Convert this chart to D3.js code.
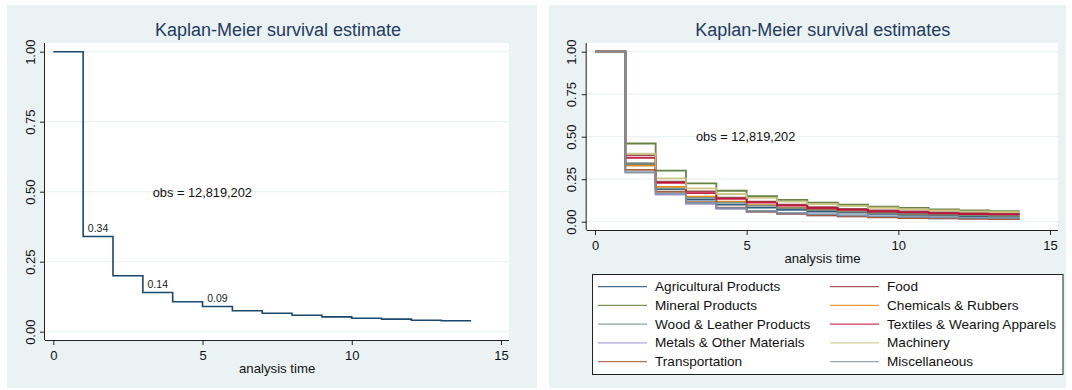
<!DOCTYPE html>
<html>
<head>
<meta charset="utf-8">
<script src="https://cdn.jsdelivr.net/npm/d3@7"></script>
<style>
  html, body { margin: 0; padding: 0; background: #ffffff; }
  svg { display: block; font-family: "Liberation Sans", Arial, sans-serif; }
</style>
</head>
<body>
<svg id="chart" width="1072" height="390"></svg>
<script>
// Survival times (years) at which the estimate steps; the curve ends at 14
const times = [0, 1, 2, 3, 4, 5, 6, 7, 8, 9, 10, 11, 12, 13, 14];

// Pooled Kaplan-Meier estimate
const pooled = [1.00, 0.34, 0.20, 0.14, 0.107, 0.09, 0.075, 0.066, 0.059, 0.053, 0.048, 0.045, 0.041, 0.039, 0.039];

// Intervals whose survival value is printed on the pooled curve
const labelledSteps = [1, 3, 5];

// Sector-level estimates
const sectors = [
  "Agricultural Products", "Food", "Mineral Products", "Chemicals & Rubbers",
  "Wood & Leather Products", "Textiles & Wearing Apparels", "Metals & Other Materials",
  "Machinery", "Transportation", "Miscellaneous"
];
const agricultural   = [1, 0.34,  0.19,  0.13,  0.100, 0.083, 0.070, 0.060, 0.053, 0.046, 0.041, 0.036, 0.032, 0.029, 0.029];
const food           = [1, 0.39,  0.235, 0.178, 0.142, 0.118, 0.100, 0.086, 0.076, 0.067, 0.061, 0.055, 0.051, 0.048, 0.048];
const mineral        = [1, 0.46,  0.30,  0.226, 0.182, 0.151, 0.128, 0.112, 0.100, 0.088, 0.081, 0.073, 0.066, 0.062, 0.062];
const chemicals      = [1, 0.33,  0.205, 0.148, 0.118, 0.097, 0.082, 0.070, 0.061, 0.053, 0.048, 0.043, 0.039, 0.036, 0.036];
const wood           = [1, 0.345, 0.195, 0.140, 0.112, 0.094, 0.079, 0.068, 0.060, 0.052, 0.047, 0.042, 0.038, 0.035, 0.035];
const textiles       = [1, 0.375, 0.228, 0.168, 0.134, 0.112, 0.094, 0.079, 0.069, 0.060, 0.055, 0.049, 0.045, 0.043, 0.043];
const metals         = [1, 0.29,  0.160, 0.105, 0.075, 0.058, 0.045, 0.037, 0.031, 0.027, 0.023, 0.020, 0.018, 0.016, 0.016];
const machinery      = [1, 0.40,  0.255, 0.196, 0.163, 0.140, 0.118, 0.103, 0.092, 0.082, 0.074, 0.067, 0.061, 0.057, 0.057];
const transportation = [1, 0.305, 0.175, 0.115, 0.082, 0.060, 0.047, 0.038, 0.031, 0.025, 0.021, 0.019, 0.017, 0.016, 0.016];
const miscellaneous  = [1, 0.29,  0.165, 0.110, 0.080, 0.064, 0.052, 0.044, 0.038, 0.033, 0.029, 0.026, 0.023, 0.021, 0.021];
const sectorValues = [agricultural, food, mineral, chemicals, wood, textiles, metals, machinery, transportation, miscellaneous];
const sectorColors = ["#1a476f", "#90353b", "#55752f", "#e37e00", "#6e8e84",
                      "#c10534", "#938dd2", "#cac27e", "#a0522d", "#7b92a8"];

const xTicks = [0, 5, 10, 15];
const yTicks = [0, 0.25, 0.5, 0.75, 1];
const obsLabel = "obs = 12,819,202";

const svg = d3.select("#chart");
const BG = "#eaf2f3";
const TITLE = "#243a5e";

function panel(cfg) {
  const g = svg.append("g");
  g.append("rect").attr("x", cfg.box.x).attr("y", cfg.box.y)
    .attr("width", cfg.box.w).attr("height", cfg.box.h).attr("fill", BG);
  g.append("rect").attr("x", cfg.plot.x0).attr("y", cfg.plot.y0)
    .attr("width", cfg.plot.x1 - cfg.plot.x0).attr("height", cfg.plot.y1 - cfg.plot.y0)
    .attr("fill", "#ffffff");

  const x = d3.scaleLinear().domain([0, 15]).range(cfg.xr);
  const y = d3.scaleLinear().domain([0, 1]).range(cfg.yr);

  // horizontal grid
  g.append("g").selectAll("line").data(yTicks).join("line")
    .attr("x1", cfg.plot.x0 + 1).attr("x2", cfg.plot.x1)
    .attr("y1", d => y(d)).attr("y2", d => y(d))
    .attr("stroke", BG).attr("stroke-width", 1.2);

  // axes
  const xAxis = g.append("g").attr("transform", `translate(0,${cfg.plot.y1})`)
    .call(d3.axisBottom(x).tickValues(xTicks).tickFormat(d3.format("d")).tickSize(5).tickSizeOuter(0));
  xAxis.select(".domain").attr("d", `M${cfg.plot.x0},0.5H${cfg.plot.x1}`).attr("stroke", "#222");
  xAxis.selectAll(".tick line").attr("stroke", "#222");
  xAxis.selectAll(".tick text").attr("font-size", 13).attr("fill", "#111").attr("dy", "0.95em")
    .attr("font-family", "Liberation Sans, Arial, sans-serif");

  const yAxis = g.append("g").attr("transform", `translate(${cfg.plot.x0},0)`)
    .call(d3.axisLeft(y).tickValues(yTicks).tickFormat(d3.format(".2f")).tickSize(5).tickSizeOuter(0));
  yAxis.select(".domain").attr("d", `M-0.5,${cfg.plot.y0}V${cfg.plot.y1}`).attr("stroke", "#222");
  yAxis.selectAll(".tick line").attr("stroke", "#222");
  yAxis.selectAll(".tick text")
    .attr("font-size", 13).attr("fill", "#111")
    .attr("font-family", "Liberation Sans, Arial, sans-serif")
    .attr("x", null).attr("dy", null)
    .attr("text-anchor", "middle")
    .attr("transform", "translate(-15,0) rotate(-90)")
    .attr("dominant-baseline", "central");

  g.append("text").attr("x", (cfg.xr[0] + cfg.xr[1]) / 2).attr("y", cfg.plot.y1 + 33)
    .attr("text-anchor", "middle").attr("font-size", 13.2).attr("fill", "#111")
    .text("analysis time");

  g.append("text").attr("x", cfg.titleX).attr("y", 36)
    .attr("text-anchor", "middle").attr("font-size", 18).attr("fill", TITLE)
    .text(cfg.title);

  g.append("text").attr("x", cfg.obs[0]).attr("y", cfg.obs[1])
    .attr("font-size", 12.8).attr("fill", "#111").attr("dominant-baseline", "central")
    .text(obsLabel);

  return { g, x, y };
}

// ---- left: pooled estimate ----
const L = panel({
  box: { x: 7, y: 5, w: 530, h: 383 },
  plot: { x0: 45, x1: 509, y0: 43, y1: 340 },
  xr: [53.3, 501], yr: [331.7, 51.7],
  title: "Kaplan-Meier survival estimate", titleX: 278,
  obs: [152.7, 192]
});
const stepLineL = d3.line().x((d, i) => L.x(times[i])).y(d => L.y(d)).curve(d3.curveStepAfter);
L.g.append("path").attr("d", stepLineL(pooled))
  .attr("fill", "none").attr("stroke", "#1a476f").attr("stroke-width", 1.6);
L.g.append("g").selectAll("text").data(labelledSteps).join("text")
  .attr("x", i => L.x((times[i] + times[i + 1]) / 2))
  .attr("y", i => L.y(pooled[i]) - 5)
  .attr("text-anchor", "middle").attr("font-size", 10.5).attr("fill", "#222")
  .text(i => pooled[i].toFixed(2));

// ---- right: estimates by sector ----
const R = panel({
  box: { x: 549, y: 5, w: 517, h: 383 },
  plot: { x0: 586.7, x1: 1058, y0: 43, y1: 230 },
  xr: [595, 1050], yr: [221.7, 51.7],
  title: "Kaplan-Meier survival estimates", titleX: 822.7,
  obs: [696, 136.7]
});
const stepLineR = d3.line().x((d, i) => R.x(times[i])).y(d => R.y(d)).curve(d3.curveStepAfter);
R.g.append("g").selectAll("path").data(sectorValues).join("path")
  .attr("d", d => stepLineR(d))
  .attr("fill", "none").attr("stroke", (d, i) => sectorColors[i])
  .attr("stroke-width", 1.8).attr("stroke-opacity", 0.9);

// legend
const lg = R.g.append("g");
lg.append("rect").attr("x", 592.5).attr("y", 274.5).attr("width", 470.5).attr("height", 100)
  .attr("fill", "#ffffff").attr("stroke", "#222").attr("stroke-width", 1);
const items = lg.selectAll("g.item").data(sectors).join("g").attr("class", "item")
  .attr("transform", (d, i) => `translate(${i % 2 === 0 ? 598 : 830},${286.7 + Math.floor(i / 2) * 18.75})`);
items.append("line").attr("x1", 0).attr("x2", 49).attr("y1", 0).attr("y2", 0)
  .attr("stroke", (d, i) => sectorColors[i]).attr("stroke-width", 1.3).attr("stroke-opacity", 0.8);
items.append("text").attr("x", 57).attr("y", 0).attr("dominant-baseline", "central")
  .attr("font-size", 13.6).attr("fill", "#111").text(d => d);
</script>
</body>
</html>
